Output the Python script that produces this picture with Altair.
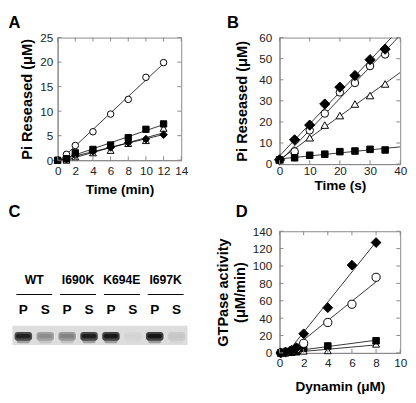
import altair as alt
import pandas as pd

FONT = "Liberation Sans"

# ---- Panel A: Pi released (uM) vs time (min)
a_time = [0, 1, 2, 4, 6, 8, 10, 12]
a_circle = [0.0, 1.2, 3.0, 5.8, 9.4, 12.4, 16.9, 19.9]
a_square = [0.0, 0.3, 1.5, 2.2, 3.1, 4.6, 6.3, 7.4]
a_diamond = [0.0, 0.2, 1.0, 1.8, 2.6, 3.6, 4.3, 5.2]
a_triangle = [0.0, 0.0, 0.7, 1.5, 2.0, 3.4, 4.0, 6.5]

# ---- Panel B: Pi released (uM) vs time (s)
b_time = [0, 5, 10, 15, 20, 25, 30, 35]
b_diamond = [2.0, 11.5, 18.5, 28.5, 36.5, 42.0, 49.5, 54.5]
b_circle = [2.0, 6.0, 16.0, 24.0, 34.0, 38.5, 46.5, 52.0]
b_triangle = [2.0, 6.5, 12.5, 18.5, 23.0, 28.5, 32.5, 38.0]
b_square = [2.0, 3.0, 4.2, 4.7, 5.9, 6.2, 7.0, 6.7]

# ---- Panel D: GTPase activity (uM/min) vs dynamin (uM)
d_conc = [0.1, 0.5, 1.0, 1.4, 2, 4, 6, 8]
d_diamond = [0, 1, 3, 6, 22, 52, 101, 127]
d_circle = [0, 1, 3, 5, 11, 35, 56, 87]
d_conc_low = [0.1, 0.5, 1.0, 1.4, 2, 4, 8]
d_square = [0, 0.5, 1, 2, 5.5, 8, 14]
d_triangle = [0, 0, 0.5, 1, 2, 2.5, 10]

# ---- Panel C: sedimentation gel (band intensity per lane)
c_groups = ["WT", "I690K", "K694E", "I697K"]
c_fractions = ["P", "S"] * 4
c_band = [0.9, 0.35, 0.4, 0.92, 0.95, 0.04, 0.97, 0.1]

STYLE = {
    "circle": dict(shape="circle", fill="white"),
    "square": dict(shape="square", fill="black"),
    "diamond": dict(shape="diamond", fill="black"),
    "triangle": dict(shape="triangle-up", fill="white"),
}


def letter(t, lx, ly):
    return alt.Chart(pd.DataFrame({"t": [t]})).mark_text(
        font=FONT, fontSize=17, fontWeight="bold", color="black",
        align="left", baseline="top").encode(
        x=alt.value(lx), y=alt.value(ly), text="t:N")


def panel(series, xdom, ydom, xticks, yticks, xtitle, ytitle, w, h,
          tag, lx, ly, extent, sizes, order, pads):
    xlp, xtp, ylp, ytp = pads
    rows = []
    for s, (xs, ys) in series.items():
        for xv, yv in zip(xs, ys):
            rows.append({"x": xv, "y": yv, "s": s})
    df = pd.DataFrame(rows)
    X = alt.X("x:Q", scale=alt.Scale(domain=xdom, nice=False, zero=False),
              axis=alt.Axis(values=xticks, title=xtitle, labelPadding=xlp,
                            titlePadding=xtp, titleFontSize=14, labelFlush=False))
    Y = alt.Y("y:Q", scale=alt.Scale(domain=ydom, nice=False, zero=False),
              axis=alt.Axis(values=yticks, title=ytitle, labelPadding=ylp,
                            titlePadding=ytp))
    base = alt.Chart(df)
    layers = [
        base.transform_regression("x", "y", groupby=["s"], extent=extent)
        .mark_line(color="black", strokeWidth=0.8, clip=True)
        .encode(x=X, y=Y, detail="s:N")
    ]
    for s in order:
        st = STYLE[s]
        layers.append(
            base.transform_filter(alt.datum.s == s)
            .mark_point(shape=st["shape"], filled=True, fill=st["fill"],
                        stroke="black", strokeWidth=1, size=sizes[s], opacity=1)
            .encode(x=X, y=Y)
        )
    xt = alt.Chart(pd.DataFrame({"x": xticks}))
    yt = alt.Chart(pd.DataFrame({"y": yticks}))
    tick = dict(color="#888", strokeWidth=1)
    layers += [
        xt.mark_rule(**tick).encode(x=X, y=alt.value(h), y2=alt.value(h - 4)),
        xt.mark_rule(**tick).encode(x=X, y=alt.value(0), y2=alt.value(4)),
        yt.mark_rule(**tick).encode(y=Y, x=alt.value(0), x2=alt.value(4)),
        yt.mark_rule(**tick).encode(y=Y, x=alt.value(w - 4), x2=alt.value(w)),
        letter(tag, lx, ly),
    ]
    return alt.layer(*layers).properties(width=w, height=h)


chart_a = panel(
    {"circle": (a_time, a_circle), "triangle": (a_time, a_triangle),
     "diamond": (a_time, a_diamond), "square": (a_time, a_square)},
    [0, 14], [0, 25], list(range(0, 15, 2)), list(range(0, 26, 5)),
    "Time (min)", "Pi Reseased (μM)", 127, 126, "A", -50.5, -23, [0, 12],
    {"circle": 45, "triangle": 50, "diamond": 60, "square": 42},
    ["triangle", "circle", "diamond", "square"], (6, 6, 5, 6))

chart_b = panel(
    {"circle": (b_time, b_circle), "triangle": (b_time, b_triangle),
     "diamond": (b_time, b_diamond), "square": (b_time, b_square)},
    [0, 40], [0, 60], list(range(0, 41, 10)), list(range(0, 61, 10)),
    "Time (s)", "Pi Reseased (μM)", 124, 130, "B", -54, -23, [0, 40],
    {"circle": 60, "triangle": 60, "diamond": 110, "square": 45},
    ["triangle", "circle", "diamond", "square"], (2, 2, 8, 10))

chart_d = panel(
    {"circle": (d_conc, d_circle), "triangle": (d_conc_low, d_triangle),
     "diamond": (d_conc, d_diamond), "square": (d_conc_low, d_square)},
    [0, 10], [0, 140], list(range(0, 11, 2)), list(range(0, 141, 20)),
    "Dynamin (μM)", ["GTPase activity", "(μM/min)"], 124, 125, "D", -45, -28, [0, 8],
    {"circle": 70, "triangle": 50, "diamond": 100, "square": 45},
    ["triangle", "square", "circle", "diamond"], (5, 12, 8, 5))

# ---- Panel C gel built from lane data (22.5 px per lane; strip starts left of the view)
lanes = pd.DataFrame({"pos": [i + 0.5 for i in range(8)],
                      "frac": c_fractions, "band": c_band})
groups = pd.DataFrame({"g": c_groups, "mid": [2 * i + 1 for i in range(4)]})
C_W = 133.5
CS = alt.Scale(domain=[8 - C_W / 22.5, 8], nice=False, zero=False)
GRAY = alt.Scale(domain=[0, 1], range=["#dddddd", "#101010"])

strip = alt.Chart(pd.DataFrame({"a": [0], "b": [8]})).mark_rect(color="#dddddd").encode(
    x=alt.X("a:Q", scale=CS, axis=None), x2="b:Q",
    y=alt.value(97), y2=alt.value(117))
smear = alt.Chart(lanes).transform_calculate(
    l="datum.pos - 0.3", r="datum.pos + 0.3", v="datum.band * 0.3"
).mark_rect(cornerRadius=2).encode(
    x=alt.X("l:Q", scale=CS, axis=None), x2="r:Q",
    y=alt.value(110), y2=alt.value(115),
    color=alt.Color("v:Q", scale=GRAY, legend=None))
outer = alt.Chart(lanes).transform_calculate(
    l="datum.pos - 0.4", r="datum.pos + 0.4", v="datum.band * 0.75"
).mark_rect(cornerRadius=3).encode(
    x=alt.X("l:Q", scale=CS, axis=None), x2="r:Q",
    y=alt.value(103.5), y2=alt.value(112.5),
    color=alt.Color("v:Q", scale=GRAY, legend=None))
core = alt.Chart(lanes).transform_calculate(
    l="datum.pos - 0.33", r="datum.pos + 0.33"
).mark_rect(cornerRadius=2).encode(
    x=alt.X("l:Q", scale=CS, axis=None), x2="r:Q",
    y=alt.value(105.5), y2=alt.value(110),
    color=alt.Color("band:Q", scale=GRAY, legend=None))
glabels = alt.Chart(groups).mark_text(font=FONT, fontSize=12.5, fontWeight="bold", color="black").encode(
    x=alt.X("mid:Q", scale=CS, axis=None), y=alt.value(50), text="g:N")
glines = alt.Chart(groups).transform_calculate(
    lo="datum.mid - 0.82", hi="datum.mid + 0.82"
).mark_rule(color="black", strokeWidth=1).encode(
    x=alt.X("lo:Q", scale=CS, axis=None), x2="hi:Q", y=alt.value(65))
flabels = alt.Chart(lanes).mark_text(font=FONT, fontSize=14, fontWeight="bold", color="black").encode(
    x=alt.X("pos:Q", scale=CS, axis=None), y=alt.value(81), text="frac:N")

chart_c = alt.layer(strip, smear, outer, core, glabels, glines, flabels,
                    letter("C", -50.5, -28)).properties(
    width=C_W, height=125, view=alt.ViewBackground(stroke="transparent"))

chart = alt.concat(chart_a, chart_b, chart_c, chart_d, columns=2,
                   spacing={"row": 5, "column": 27}).properties(
    align="each", bounds="full",
    padding={"left": 0, "top": 0, "right": 0, "bottom": 0}
).configure_axis(
    labelFont=FONT, labelFontSize=12, labelColor="#222", labelOverlap=False,
    titleFont=FONT, titleFontSize=15, titleFontWeight="bold", titleColor="black",
    titleLineHeight=17, domainColor="#888", ticks=False, grid=False
).configure_view(stroke="#888")

chart.save("out.html", embed_options={"renderer": "svg", "actions": False})
